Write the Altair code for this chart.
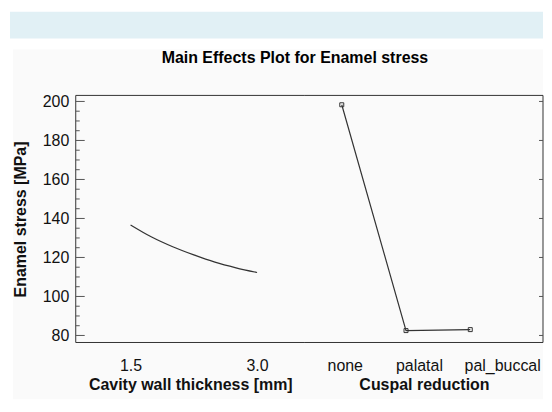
import json
import altair as alt
import pandas as pd

# ---- data ----
thickness = [1.5, 1.75, 2.0, 2.25, 2.5, 2.75, 3.0]
thickness_stress = [136.7, 130.5, 125.5, 121.3, 117.6, 114.7, 112.3]
thickness_ticks = [1.5, 3.0]

cuspal = ["none", "palatal", "pal_buccal"]
cuspal_stress = [198.3, 82.5, 83.0]

y_major = [80, 100, 120, 140, 160, 180, 200]
y_minor = [85, 90, 95, 105, 110, 115, 125, 130, 135, 145, 150, 155,
           165, 170, 175, 185, 190, 195]

title_text = "Main Effects Plot for Enamel stress"
y_title = "Enamel stress [MPa]"
x1_title = "Cavity wall thickness [mm]"
x2_title = "Cuspal reduction"

# ---- styling ----
FONT = "Liberation Sans"
INK = "#333333"
TXT = "#111111"
W1, W2, H = 230, 239, 248
Y_DOMAIN = [76.4, 203.1]
X1_DOMAIN = [0.85, 3.567]
X2_DOMAIN = [-0.574, 3.132]

df1 = pd.DataFrame({"thickness": thickness, "stress": thickness_stress})
df2 = pd.DataFrame({"reduction": cuspal, "idx": list(range(len(cuspal))),
                    "stress": cuspal_stress})
major_df = pd.DataFrame({"stress": y_major})
minor_df = pd.DataFrame({"stress": y_minor})
one = pd.DataFrame({"a": [0]})

yscale = alt.Scale(domain=Y_DOMAIN, nice=False, zero=False)
y_axis_left = alt.Axis(values=y_major, title=y_title, ticks=False, domain=False,
                       grid=False, labelPadding=7, titlePadding=14, zindex=1,
                       labelFontSize=16, titleFontSize=16, titleFontWeight="bold",
                       labelFont=FONT, titleFont=FONT, labelColor=TXT,
                       titleColor=TXT)


def yl():
    return alt.Y("stress:Q", scale=yscale, axis=y_axis_left)


def yr():
    return alt.Y("stress:Q", scale=yscale, axis=None)


x1 = alt.X("thickness:Q", scale=alt.Scale(domain=X1_DOMAIN, nice=False, zero=False),
           axis=alt.Axis(values=thickness_ticks, format=".1f", title=x1_title,
                         ticks=False, domain=False, grid=False, labelPadding=15,
                         titlePadding=3, zindex=1, labelFontSize=16,
                         titleFontSize=16, titleFontWeight="bold",
                         labelFont=FONT, titleFont=FONT, labelColor=TXT,
                         titleColor=TXT, labelFlush=False, labelOverlap=False))

label_expr = json.dumps(cuspal) + "[datum.value]"
x2 = alt.X("idx:Q", scale=alt.Scale(domain=X2_DOMAIN, nice=False, zero=False),
           axis=alt.Axis(values=list(range(len(cuspal))), labelExpr=label_expr,
                         title=x2_title, ticks=False, domain=False, grid=False,
                         labelPadding=15, titlePadding=3, zindex=1,
                         labelFontSize=16, titleFontSize=16,
                         titleFontWeight="bold", labelFont=FONT, titleFont=FONT,
                         labelColor=TXT, titleColor=TXT, labelFlush=False,
                         labelOverlap=False,
                         labelOffset={"condition": [
                             {"test": "datum.value == 0", "value": 3},
                             {"test": "datum.value == 1", "value": 13}],
                             "value": 32}))

# ---- decorations (left panel, drawn outside its view) ----
band = alt.Chart(one).mark_rect(color="#e1f0f5").encode(
    x=alt.value(-66), x2=alt.value(469), y=alt.value(-84), y2=alt.value(-57))
panel_bg = alt.Chart(one).mark_rect(color="#fafafa").encode(
    x=alt.value(-63), x2=alt.value(469), y=alt.value(-46), y2=alt.value(305))
title = alt.Chart(one).mark_text(text=title_text, font=FONT, fontSize=16,
                                 fontWeight="bold", color="#000000",
                                 align="center", baseline="alphabetic").encode(
    x=alt.value(220), y=alt.value(-33))


def frame_rules(w, side):
    top = alt.Chart(one).mark_rule(color=INK, strokeWidth=1).encode(
        x=alt.value(0), x2=alt.value(w), y=alt.value(0))
    bottom = alt.Chart(one).mark_rule(color=INK, strokeWidth=1).encode(
        x=alt.value(0), x2=alt.value(w), y=alt.value(H))
    xs = 0 if side == "left" else w
    vert = alt.Chart(one).mark_rule(color=INK, strokeWidth=1).encode(
        x=alt.value(xs), y=alt.value(0), y2=alt.value(H))
    return [top, bottom, vert]


# ---- left panel ----
major_l = alt.Chart(major_df).mark_rule(color="#555555", strokeWidth=1).encode(
    y=yl(), x=alt.value(0), x2=alt.value(9))
minor_l = alt.Chart(minor_df).mark_rule(color="#555555", strokeWidth=1).encode(
    y=yl(), x=alt.value(0), x2=alt.value(4))
curve = alt.Chart(df1).mark_line(color=INK, strokeWidth=1.2,
                                 interpolate="monotone").encode(x=x1, y=yl())

left = alt.layer(band, panel_bg, title, *frame_rules(W1, "left"),
                 major_l, minor_l, curve).properties(width=W1, height=H)

# ---- right panel ----
major_r = alt.Chart(major_df).mark_rule(color="#555555", strokeWidth=1).encode(
    y=yr(), x=alt.value(W2 - 4), x2=alt.value(W2))
line2 = alt.Chart(df2).mark_line(color=INK, strokeWidth=1.2).encode(x=x2, y=yr())
pts2 = alt.Chart(df2).mark_point(shape="square", filled=False, size=16,
                                 color=INK, strokeWidth=1, opacity=1).encode(
    x=x2, y=yr())

right = alt.layer(*frame_rules(W2, "right"), major_r, line2, pts2).properties(
    width=W2, height=H)

chart = alt.hconcat(left, right, spacing=0, bounds="flush").properties(
    padding={"left": 1, "top": 2, "right": 0, "bottom": 0},
    background="#ffffff",
).configure_view(stroke="transparent")

chart.save("out.html", embed_options={"renderer": "svg", "actions": False})
